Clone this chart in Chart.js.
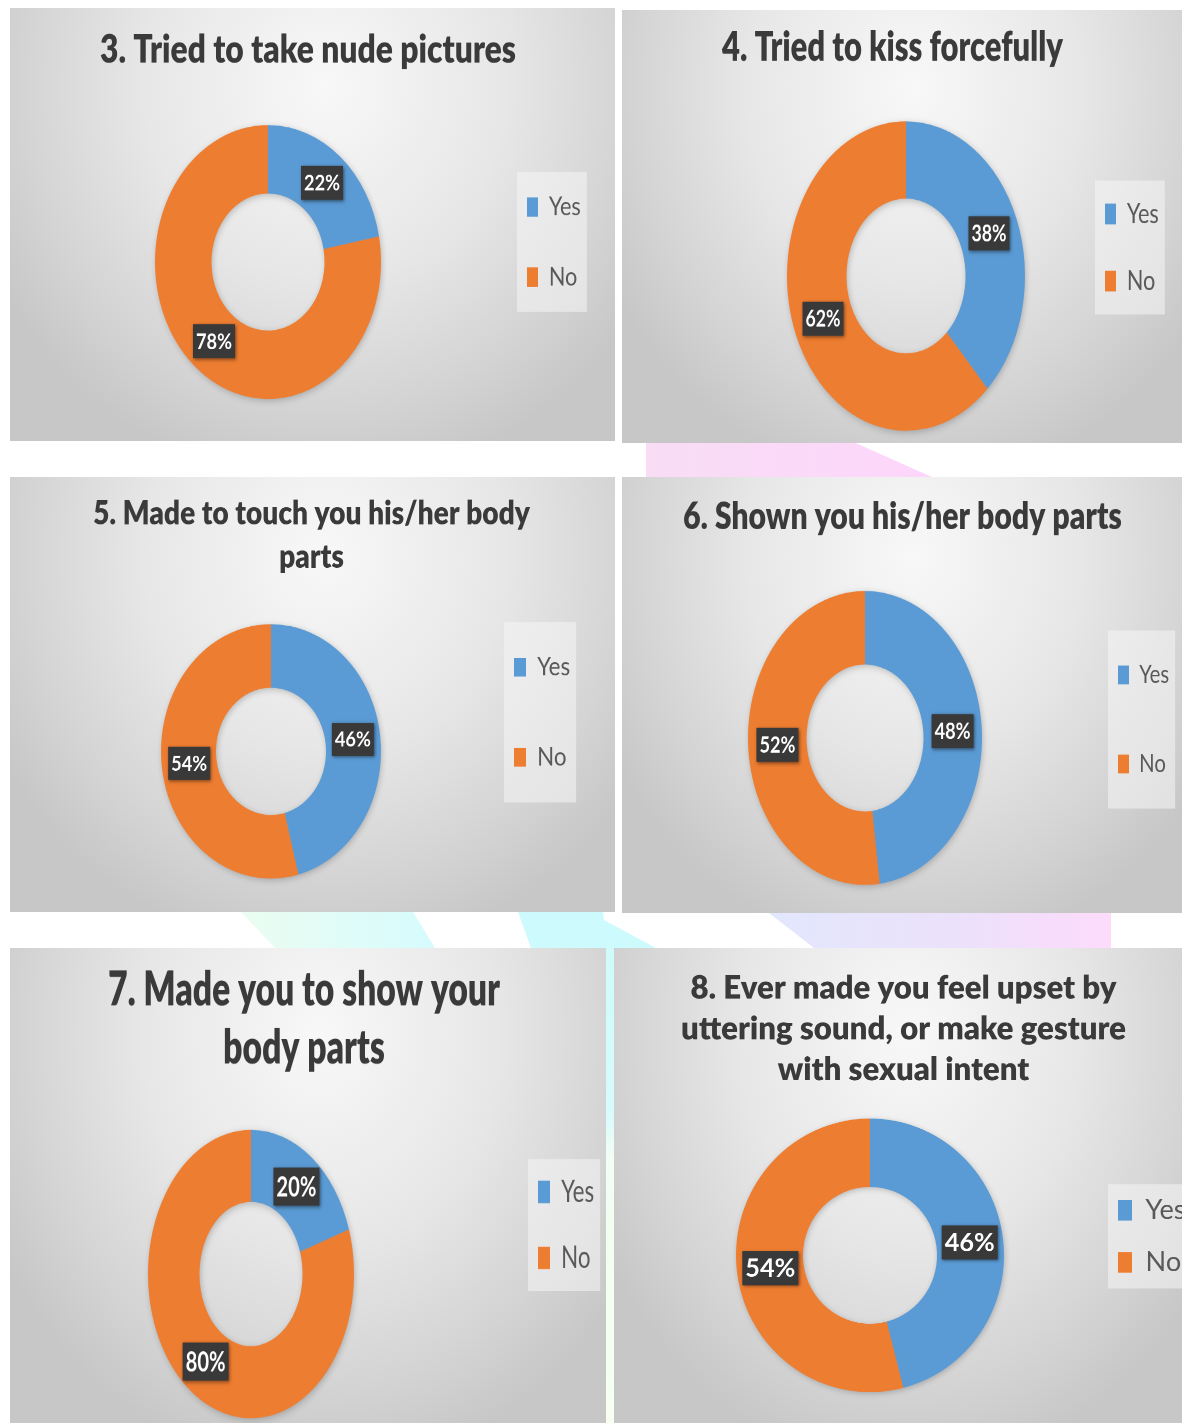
<!DOCTYPE html>
<html>
<head>
<meta charset="utf-8">
<script src="https://cdn.jsdelivr.net/npm/chart.js@4.4.1/dist/chart.umd.min.js"></script>
<style>
  html, body { margin: 0; padding: 0; background: #fff; }
  body { width: 1182px; height: 1423px; position: relative; overflow: hidden; }
  .panel {
    position: absolute; overflow: hidden;
    background: radial-gradient(ellipse 62% 92% at 52% 18%, #f8f8f8 0%, #e7e7e7 48%, #d3d3d3 82%, #c7c7c7 100%);
  }
  .inner { position: absolute; left: 0; top: 0; transform-origin: 0 0; }
  .deco { position: absolute; }
</style>
</head>
<body>
<!-- faint watermark shapes showing through the gaps -->
<div class="deco" style="left:646px;top:441px;width:290px;height:36px;background:linear-gradient(90deg,#f8ddf5,#fdd6fb);clip-path:polygon(0 0,205px 0,286px 36px,0 36px)"></div>
<div class="deco" style="left:241px;top:912px;width:196px;height:36px;background:linear-gradient(90deg,#ebfdf1,#d6fbfd);clip-path:polygon(0 0,172px 0,194px 36px,34px 36px)"></div>
<div class="deco" style="left:518px;top:912px;width:140px;height:36px;background:#cdfbfd;clip-path:polygon(0 0,85px 0,86px 8px,138px 36px,13px 36px)"></div>
<div class="deco" style="left:769px;top:913px;width:342px;height:35px;background:linear-gradient(90deg,#e2e7fd,#ece1fb 55%,#fddbfb);clip-path:polygon(0 0,342px 0,342px 35px,45px 35px)"></div>
<div class="deco" style="left:606px;top:940px;width:8px;height:483px;background:linear-gradient(180deg,#cffbfd 0%,#d6fbfd 35%,#f2fdf3 45%,#f6fff2 100%)"></div>

<script>
const labels = ['Yes', 'No'];
const titles = [
  ['3. Tried to take nude pictures'],
  ['4. Tried to kiss forcefully'],
  ['5. Made to touch you his/her body', 'parts'],
  ['6. Shown you his/her body parts'],
  ['7. Made you to show your', 'body parts'],
  ['8. Ever made you feel upset by', 'uttering sound, or make gesture', 'with sexual intent']
];
const yesPct = [22, 38, 46, 48, 20, 46];
const noPct = [78, 62, 54, 52, 80, 54];
const colors = ['#5b9bd5', '#ed7d31'];

// where things sit on the page (px); s = vertical stretch
const boxes = [
  {x: 10,  y: 8,   w: 605, h: 433, s: 1.212, cx: 268, cy: 262,  r: 113, legX: 527,  legY: 242,   legStep: 70, legW: 32, tX: 308,   tY: 50,    tStep: 0,  tW: 416, lblW: 42, lblH: 34},
  {x: 622, y: 10,  w: 560, h: 433, s: 1.30,  cx: 906, cy: 276,  r: 119, legX: 1105, legY: 247.5, legStep: 67, legW: 32, tX: 892.5, tY: 48,    tStep: 0,  tW: 341, lblW: 41, lblH: 34},
  {x: 10,  y: 477, w: 605, h: 435, s: 1.155, cx: 271, cy: 751,  r: 110, legX: 514,  legY: 712,   legStep: 90, legW: 33, tX: 311.5, tY: 535.5, tStep: 43, tW: 437, lblW: 42, lblH: 33},
  {x: 622, y: 477, w: 560, h: 436, s: 1.256, cx: 865, cy: 738,  r: 117, legX: 1118, legY: 719.5, legStep: 89, legW: 30, tX: 902.5, tY: 517,   tStep: 0,  tW: 439, lblW: 42, lblH: 34},
  {x: 10,  y: 948, w: 596, h: 475, s: 1.40,  cx: 251, cy: 1274, r: 103, legX: 538,  legY: 1225,  legStep: 66, legW: 33, tX: 304,   tY: 1019,  tStep: 58, tW: 392, lblW: 46, lblH: 38},
  {x: 614, y: 948, w: 568, h: 475, s: 1.02,  cx: 870, cy: 1255, r: 134, legX: 1118, legY: 1236,  legStep: 52, legW: 40, tX: 903.5, tY: 1029,  tStep: 41, tW: 445, lblW: 56, lblH: 34, extraW: 24}
];

const FONT = 'Lato, "Open Sans", sans-serif';
const TITLE_WEIGHT = '800';
const mctx = document.createElement('canvas').getContext('2d');
function textW(text, weight, size) {
  mctx.font = `${weight} ${size}px ${FONT}`;
  return mctx.measureText(text).width;
}

// title/legend placement, legend backdrop, ring shadow and the dark value boxes
const excelLook = {
  id: 'excelLook',
  afterLayout(chart, args, o) {
    const t = chart.titleBlock;
    if (t) {
      const half = (t.right - t.left) / 2;
      t.left = o.tcx - half;
      t.right = o.tcx + half;
    }
    const L = chart.legend;
    if (L) {
      const wL = L.right - L.left;
      L.left = o.legLeft;
      L.right = o.legLeft + wL;
    }
  },
  beforeDraw(chart) {
    const hb = chart.legend.legendHitBoxes;
    if (!hb || hb.length < 2) return;
    const ctx = chart.ctx;
    const step = hb[1].top - hb[0].top;
    const top = hb[0].top + hb[0].height / 2 - step / 2;
    const bottom = hb[hb.length - 1].top + hb[hb.length - 1].height / 2 + step / 2;
    const left = hb[0].left - 10;
    const right = Math.max(...hb.map(h => h.left + h.width)) + 6;
    ctx.save();
    ctx.fillStyle = 'rgba(245,245,245,0.55)';
    ctx.fillRect(left, top, right - left, bottom - top);
    ctx.restore();
  },
  beforeDatasetsDraw(chart) {
    const a = chart.getDatasetMeta(0).data[0];
    if (!a) return;
    const ctx = chart.ctx;
    ctx.save();
    ctx.shadowColor = 'rgba(0,0,0,0.28)';
    ctx.shadowBlur = 14;
    ctx.shadowOffsetX = 2;
    ctx.shadowOffsetY = 3;
    ctx.fillStyle = '#999';
    ctx.beginPath();
    ctx.arc(a.x, a.y, a.outerRadius - 1, 0, Math.PI * 2);
    ctx.arc(a.x, a.y, a.innerRadius + 1, Math.PI * 2, 0, true);
    ctx.fill();
    ctx.restore();
  },
  afterDatasetsDraw(chart, args, o) {
    const ctx = chart.ctx;
    const ds = chart.data.datasets[0];
    chart.getDatasetMeta(0).data.forEach((arc, i) => {
      const p = arc.tooltipPosition(true);
      const txt = ds.data[i] + '%';
      ctx.save();
      ctx.shadowColor = 'rgba(0,0,0,0.5)';
      ctx.shadowBlur = 6;
      ctx.shadowOffsetX = 2;
      ctx.shadowOffsetY = 2;
      ctx.fillStyle = '#393939';
      ctx.fillRect(p.x - o.w / 2, p.y - o.h / 2, o.w, o.h);
      ctx.restore();
      ctx.save();
      ctx.fillStyle = '#ffffff';
      ctx.font = `bold ${o.size}px ${FONT}`;
      ctx.textAlign = 'center';
      ctx.textBaseline = 'middle';
      ctx.fillText(txt, p.x, p.y + 0.5);
      ctx.restore();
    });
  }
};

boxes.forEach((b, i) => {
  const panel = document.createElement('div');
  panel.className = 'panel';
  Object.assign(panel.style, {left: b.x + 'px', top: b.y + 'px', width: b.w + 'px', height: b.h + 'px'});
  const W = b.w + (b.extraW || 0);
  const H = b.h / b.s;
  const inner = document.createElement('div');
  inner.className = 'inner';
  Object.assign(inner.style, {width: W + 'px', height: H + 'px', transform: `scaleY(${b.s})`});
  const cv = document.createElement('canvas');
  inner.appendChild(cv);
  panel.appendChild(inner);
  document.body.appendChild(panel);

  // legend sizing; the chart area is centred on the ring, the legend is moved afterwards
  const lfs = 100 * b.legW / textW('Yes', 'normal', 100);
  const boxW = Math.round(lfs * 0.52);
  const itemW = boxW + lfs / 2 + Math.max(...labels.map(t => textW(t, 'normal', lfs)));
  const lp = b.legStep / b.s - lfs;
  const legW = lp + itemW + 10;
  const k = 2 * (b.cx - b.x) - W + legW;
  const padL = Math.max(0, k);
  const padR = padL - k;
  const legLeft = (b.legX - b.x) - lp;

  // vertical layout, unstretched units
  const Dc = (b.cy - b.y) / b.s, Lc = (b.legY - b.y) / b.s, Tc = (b.tY - b.y) / b.s;
  const T = 2 * (Dc - Lc);
  const padT = Math.max(0, 2 * Lc - H);
  const padB = H - 2 * Lc + padT;

  const lines = titles[i];
  const tfs = 100 * b.tW / Math.max(...lines.map(t => textW(t, TITLE_WEIGHT, 100)));
  const lh = lines.length > 1 ? b.tStep / b.s : tfs * 1.2;
  const ptop = Tc - padT - lh * lines.length / 2;
  const pbot = T - lh * lines.length - ptop;

  const lblSize = 100 * (b.lblW - 6) / textW('00%', 'bold', 100);

  new Chart(cv, {
    type: 'doughnut',
    data: {
      labels: labels,
      datasets: [{
        data: [yesPct[i], noPct[i]],
        backgroundColor: colors,
        borderWidth: 0,
        radius: b.r,
        cutout: '50%',
        clip: false
      }]
    },
    options: {
      responsive: true,
      maintainAspectRatio: false,
      animation: false,
      devicePixelRatio: 2,
      events: [],
      layout: {padding: {left: padL, right: padR, top: padT, bottom: padB}},
      plugins: {
        tooltip: {enabled: false},
        title: {
          display: true,
          text: lines,
          color: '#3a3a3a',
          font: {family: FONT, weight: TITLE_WEIGHT, size: tfs, lineHeight: lh / tfs},
          padding: {top: ptop, bottom: pbot}
        },
        legend: {
          position: 'right',
          align: 'center',
          fullSize: true,
          labels: {
            boxWidth: boxW,
            boxHeight: Math.round(lfs * 0.72),
            padding: lp,
            color: '#595959',
            font: {family: FONT, size: lfs}
          }
        },
        excelLook: {size: lblSize, w: b.lblW, h: b.lblH / b.s, tcx: b.tX - b.x, legLeft: legLeft}
      }
    },
    plugins: [excelLook]
  });
});
</script>
</body>
</html>
